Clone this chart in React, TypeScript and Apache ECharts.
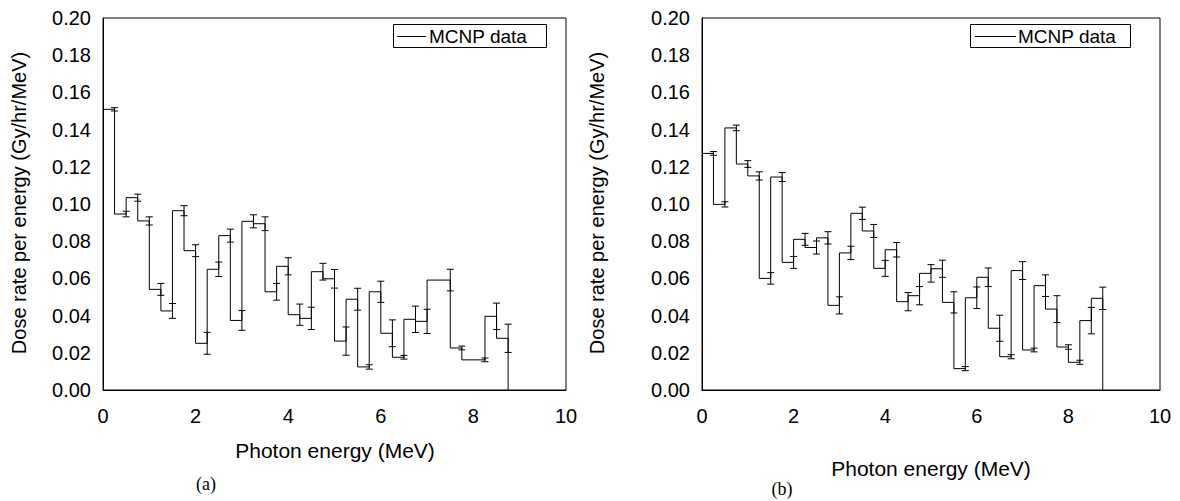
import React, { useEffect, useRef } from "react";
import * as echarts from "echarts";

// Panel (a): bin edges (MeV), dose rate per energy and its error
const binEdgesA = [0, 0.25, 0.5, 0.75, 1.0, 1.25, 1.5, 1.75, 2.0, 2.25, 2.5, 2.75, 3.0, 3.25, 3.5, 3.75, 4.0, 4.25, 4.5, 4.75, 5.0, 5.25, 5.5, 5.75, 6.0, 6.25, 6.5, 6.75, 7.0, 7.5, 7.75, 8.25, 8.5, 8.75];
const doseA = [0.1509, 0.0946, 0.1034, 0.0909, 0.0541, 0.0425, 0.0964, 0.0749, 0.0251, 0.0649, 0.083, 0.0374, 0.0907, 0.0894, 0.0528, 0.0665, 0.0405, 0.0385, 0.0636, 0.0598, 0.0263, 0.0488, 0.0124, 0.0528, 0.0305, 0.0176, 0.038, 0.0369, 0.0591, 0.0226, 0.0162, 0.0396, 0.0278];
const errA = [0.0009, 0.0015, 0.0019, 0.0022, 0.0032, 0.004, 0.0027, 0.0032, 0.0059, 0.0039, 0.0035, 0.0053, 0.0035, 0.0037, 0.0045, 0.0046, 0.0057, 0.006, 0.0045, 0.005, 0.0076, 0.0059, 0.0012, 0.0057, 0.0072, 0.001, 0.0071, 0.0065, 0.0058, 0.001, 0.001, 0.0071, 0.0076];

// Panel (b)
const binEdgesB = [0, 0.25, 0.5, 0.75, 1.0, 1.25, 1.5, 1.75, 2.0, 2.25, 2.5, 2.75, 3.0, 3.25, 3.5, 3.75, 4.0, 4.25, 4.5, 4.75, 5.0, 5.25, 5.5, 5.75, 6.0, 6.25, 6.5, 6.75, 7.0, 7.25, 7.5, 7.75, 8.0, 8.25, 8.5, 8.75];
const doseB = [0.1272, 0.0998, 0.1409, 0.1215, 0.1151, 0.06, 0.1145, 0.0686, 0.081, 0.0766, 0.0818, 0.0455, 0.0737, 0.095, 0.0855, 0.0654, 0.0754, 0.0475, 0.0507, 0.0627, 0.0652, 0.0471, 0.0115, 0.0496, 0.0606, 0.0332, 0.0179, 0.0642, 0.0215, 0.0561, 0.0435, 0.0231, 0.0149, 0.0373, 0.0493];
const errB = [0.001, 0.0014, 0.0015, 0.0018, 0.0022, 0.0031, 0.0024, 0.0032, 0.0032, 0.0035, 0.0033, 0.0046, 0.0036, 0.0033, 0.0035, 0.0043, 0.0039, 0.0049, 0.0049, 0.0047, 0.0046, 0.0057, 0.0011, 0.0058, 0.005, 0.007, 0.0011, 0.0048, 0.001, 0.0058, 0.0072, 0.0012, 0.0011, 0.0071, 0.006];

const xTitle = "Photon energy (MeV)";
const yTitle = "Dose rate per energy (Gy/hr/MeV)";
const legendName = "MCNP data";
const captions = ["(a)", "(b)"];

const FONT = "'Liberation Sans', Arial, sans-serif";

function stepPoints(edges: number[], vals: number[]) {
  const pts: number[][] = [];
  for (let i = 0; i < vals.length; i++) {
    pts.push([edges[i], vals[i]]);
    pts.push([edges[i + 1], vals[i]]);
  }
  pts.push([edges[edges.length - 1], 0]);
  return pts;
}

function errPoints(edges: number[], vals: number[], errs: number[]) {
  return vals.map((v, i) => [edges[i + 1], v - errs[i], v + errs[i]]);
}

function errRender(params: any, api: any) {
  const x = api.value(0);
  const lo = api.coord([x, api.value(1)]);
  const hi = api.coord([x, api.value(2)]);
  const hw = 3.5;
  const st = { stroke: "#000", lineWidth: 1 };
  return {
    type: "group",
    children: [
      { type: "line", shape: { x1: lo[0], y1: lo[1], x2: hi[0], y2: hi[1] }, style: st },
      { type: "line", shape: { x1: lo[0] - hw, y1: lo[1], x2: lo[0] + hw, y2: lo[1] }, style: st },
      { type: "line", shape: { x1: hi[0] - hw, y1: hi[1], x2: hi[0] + hw, y2: hi[1] }, style: st },
    ],
  };
}

export default function App() {
  const ref = useRef<HTMLDivElement>(null);
  useEffect(() => {
    const chart = echarts.init(ref.current!, null, { renderer: "svg" });
    const grids = [
      { left: 103, right: 614, top: 18, bottom: 111 },
      { left: 702, right: 20, top: 18, bottom: 111 },
    ].map((g) => ({ ...g, show: true, borderColor: "#000", borderWidth: 1, backgroundColor: "transparent" }));

    const xAxes = [0, 1].map((i) => ({
      type: "value",
      gridIndex: i,
      min: 0,
      max: 10,
      interval: 2,
      axisLine: { show: true, lineStyle: { color: "#000", width: 1 } },
      axisTick: { show: false },
      splitLine: { show: false },
      axisLabel: { color: "#000", fontSize: 20, fontFamily: FONT, margin: 16 },
    }));
    const yAxes = [0, 1].map((i) => ({
      type: "value",
      gridIndex: i,
      min: 0,
      max: 0.2,
      interval: 0.02,
      axisLine: { show: true, lineStyle: { color: "#000", width: 1 } },
      axisTick: { show: false },
      splitLine: { show: false },
      axisLabel: {
        color: "#000",
        fontSize: 20,
        fontFamily: FONT,
        margin: 12,
        formatter: (v: number) => v.toFixed(2),
      },
    }));

    const panels = [
      { edges: binEdgesA, vals: doseA, errs: errA },
      { edges: binEdgesB, vals: doseB, errs: errB },
    ];
    const series: any[] = [];
    panels.forEach((p, i) => {
      series.push({
        type: "line",
        name: legendName,
        xAxisIndex: i,
        yAxisIndex: i,
        data: stepPoints(p.edges, p.vals),
        showSymbol: false,
        symbol: "none",
        lineStyle: { color: "#000", width: 1 },
        silent: true,
      });
      series.push({
        type: "custom",
        xAxisIndex: i,
        yAxisIndex: i,
        data: errPoints(p.edges, p.vals, p.errs),
        encode: { x: 0, y: [1, 2] },
        renderItem: errRender,
        silent: true,
      });
    });

    const textStyle = { fill: "#000", font: `21px ${FONT}` };
    const legendBoxes = [
      { x: 393, y: 24, w: 153, h: 23, l1: 397, l2: 426, tx: 429 },
      { x: 970, y: 24, w: 160, h: 23, l1: 975, l2: 1016, tx: 1018 },
    ];
    const graphic: any[] = [];
    legendBoxes.forEach((b) => {
      graphic.push({ type: "rect", shape: { x: b.x + 0.5, y: b.y + 0.5, width: b.w, height: b.h }, style: { fill: "#fff", stroke: "#000", lineWidth: 1 }, z: 100 });
      graphic.push({ type: "line", shape: { x1: b.l1, y1: b.y + 12.5, x2: b.l2, y2: b.y + 12.5 }, style: { stroke: "#000", lineWidth: 1 }, z: 101 });
      graphic.push({ type: "text", x: b.tx, y: b.y + 12, style: { text: legendName, fill: "#000", font: `19px ${FONT}`, textVerticalAlign: "middle" }, z: 101 });
    });
    // axis titles
    graphic.push({ type: "text", x: 335, y: 450, style: { ...textStyle, text: xTitle, textAlign: "center", textVerticalAlign: "middle" } });
    graphic.push({ type: "text", x: 931, y: 468, style: { ...textStyle, text: xTitle, textAlign: "center", textVerticalAlign: "middle" } });
    graphic.push({ type: "text", x: 19, y: 203, rotation: Math.PI / 2, style: { fill: "#000", font: `20px ${FONT}`, text: yTitle, textAlign: "center", textVerticalAlign: "middle" } });
    graphic.push({ type: "text", x: 597, y: 203, rotation: Math.PI / 2, style: { fill: "#000", font: `20px ${FONT}`, text: yTitle, textAlign: "center", textVerticalAlign: "middle" } });
    // captions
    graphic.push({ type: "text", x: 206, y: 484, style: { text: captions[0], fill: "#000", font: "18px 'Liberation Serif', 'Times New Roman', serif", textAlign: "center", textVerticalAlign: "middle" } });
    graphic.push({ type: "text", x: 782, y: 489, style: { text: captions[1], fill: "#000", font: "18px 'Liberation Serif', 'Times New Roman', serif", textAlign: "center", textVerticalAlign: "middle" } });

    chart.setOption({
      animation: false,
      backgroundColor: "#fff",
      grid: grids,
      xAxis: xAxes,
      yAxis: yAxes,
      series,
      graphic,
    });
    return () => chart.dispose();
  }, []);
  return <div ref={ref} style={{ position: "fixed", left: 0, top: 0, width: 1180, height: 501 }} />;
}
